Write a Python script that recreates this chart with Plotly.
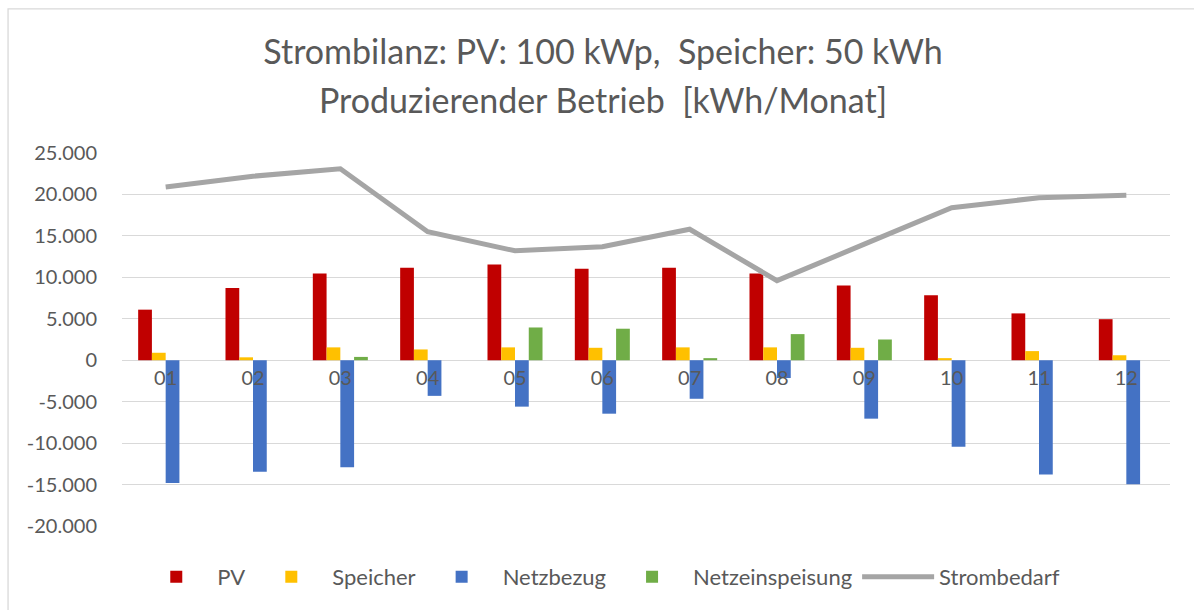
import plotly.graph_objects as go

months = ["01", "02", "03", "04", "05", "06", "07", "08", "09", "10", "11", "12"]
pv = [6100, 8700, 10450, 11150, 11550, 11050, 11150, 10450, 9000, 7850, 5650, 4950]
speicher = [900, 350, 1550, 1300, 1550, 1500, 1550, 1550, 1500, 250, 1100, 600]
netzbezug = [-14800, -13450, -12900, -4300, -5600, -6450, -4650, -2150, -7050, -10450, -13800, -14950]
netzeinspeisung = [0, 0, 400, 0, 3950, 3800, 250, 3150, 2500, 0, 0, 0]
strombedarf = [20900, 22200, 23100, 15500, 13200, 13700, 15800, 9600, 14000, 18400, 19600, 19900]

y_tickvals = [-20000, -15000, -10000, -5000, 0, 5000, 10000, 15000, 20000, 25000]
y_ticktext = ["-20.000", "-15.000", "-10.000", "-5.000", "0", "5.000", "10.000", "15.000", "20.000", "25.000"]

title_line1 = "Strombilanz: PV: 100 kWp,  Speicher: 50 kWh"
title_line2 = "Produzierender Betrieb  [kWh/Monat]"

FONT = "Lato"
TXT = "#595959"
GRID = "#D9D9D9"

W, H = 1194, 610
ML, MR, MT, MB = 121.5, 24, 152.7, 84
PW = W - ML - MR
PH = H - MT - MB

fig = go.Figure()
fig.add_trace(go.Bar(name="PV", x=months, y=pv, marker=dict(color="#C00000", line=dict(width=0))))
fig.add_trace(go.Bar(name="Speicher", x=months, y=speicher, marker=dict(color="#FFC000", line=dict(width=0))))
fig.add_trace(go.Bar(name="Netzbezug", x=months, y=netzbezug, marker=dict(color="#4472C4", line=dict(width=0))))
fig.add_trace(go.Bar(name="Netzeinspeisung", x=months, y=netzeinspeisung, marker=dict(color="#70AD47", line=dict(width=0))))
fig.add_trace(go.Scatter(name="Strombedarf", x=months, y=strombedarf, mode="lines",
                         line=dict(color="#A5A5A5", width=5)))

def px_to_paper_x(px):
    return (px - ML) / PW

def px_to_paper_y(py):
    return (H - MB - py) / PH

fig.update_layout(
    width=W, height=H,
    margin=dict(l=ML, r=MR, t=MT, b=MB, pad=0),
    paper_bgcolor="white", plot_bgcolor="white",
    font=dict(family=FONT, color=TXT, size=20),
    barmode="group", bargap=0.37, bargroupgap=0,
    title=dict(text=title_line1, x=603 / W, xanchor="center", xref="container",
               y=1 - 52 / H, yanchor="middle", yref="container",
               font=dict(family=FONT, size=34, color=TXT)),
    showlegend=True,
    legend=dict(orientation="h", x=px_to_paper_x(600), xanchor="center",
                y=px_to_paper_y(577), yanchor="middle",
                font=dict(family=FONT, size=22, color=TXT),
                itemwidth=72, traceorder="normal", bgcolor="rgba(0,0,0,0)"),
    xaxis=dict(type="category", anchor="free", position=20000 / 45000,
               showgrid=False, showline=False, zeroline=False, ticks="",
               tickfont=dict(family=FONT, size=20, color=TXT), layer="above traces",
               ticklabelstandoff=4),
    yaxis=dict(range=[-20000, 25000], tickvals=y_tickvals, ticktext=y_ticktext,
               showgrid=True, gridcolor=GRID, gridwidth=1.3,
               zeroline=True, zerolinecolor=GRID, zerolinewidth=1.3,
               showline=False, ticks="", ticklabelstandoff=24,
               tickfont=dict(family=FONT, size=20, color=TXT)),
    annotations=[dict(text=title_line2, xref="paper", yref="paper",
                      x=px_to_paper_x(603), y=px_to_paper_y(99),
                      xanchor="center", yanchor="middle", showarrow=False,
                      font=dict(family=FONT, size=34, color=TXT))],
    shapes=[dict(type="rect", xref="paper", yref="paper",
                 x0=px_to_paper_x(7.5), x1=px_to_paper_x(1220),
                 y0=px_to_paper_y(630), y1=px_to_paper_y(8.5),
                 line=dict(color=GRID, width=1.3), fillcolor="rgba(0,0,0,0)", layer="below")],
)

fig.write_html("out.html", config={"displayModeBar": False},
               post_script="document.body.style.margin='0';document.body.style.overflow='hidden';")
